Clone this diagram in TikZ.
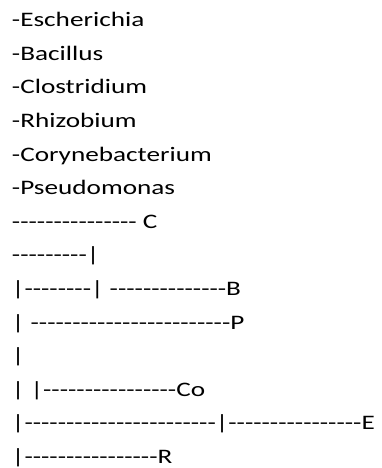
\documentclass[tikz,border=0pt]{standalone}
\usepackage{fontspec}
\setmainfont[FakeStretch=1.32,Ligatures=TeXOff]{Carlito}
\begin{document}
\begin{tikzpicture}[x=1pt,y=1pt,
  txt/.style={anchor=base west,inner sep=0pt,outer sep=0pt,font=\fontsize{20.6}{33.6}\selectfont}]
\useasboundingbox (0,0) rectangle (382,-468);
\def\lx{12}
\node[txt] (l1)  at (\lx,-26.7)  {-Escherichia};
\node[txt] (l2)  at (\lx,-60.3)  {-Bacillus};
\node[txt] (l3)  at (\lx,-93.9)  {-Clostridium};
\node[txt] (l4)  at (\lx,-127.5) {-Rhizobium};
\node[txt] (l5)  at (\lx,-161.1) {-Corynebacterium};
\node[txt] (l6)  at (\lx,-194.7) {-Pseudomonas};
\node[txt] (l7)  at (\lx,-228.3) {--------------- C};
\node[txt] (l8)  at (\lx,-261.9) {---------|};
\node[txt] (l9)  at (\lx,-295.5) {|--------| --------------B};
\node[txt] (l10) at (\lx,-329.1) {| ------------------------P};
\node[txt] (l11) at (\lx,-362.7) {|};
\node[txt] (l12) at (\lx,-396.3) {| |----------------Co};
\node[txt] (l13) at (\lx,-429.9) {|-----------------------|----------------E};
\node[txt] (l14) at (\lx,-463.5) {|----------------R};
\end{tikzpicture}
\end{document}
